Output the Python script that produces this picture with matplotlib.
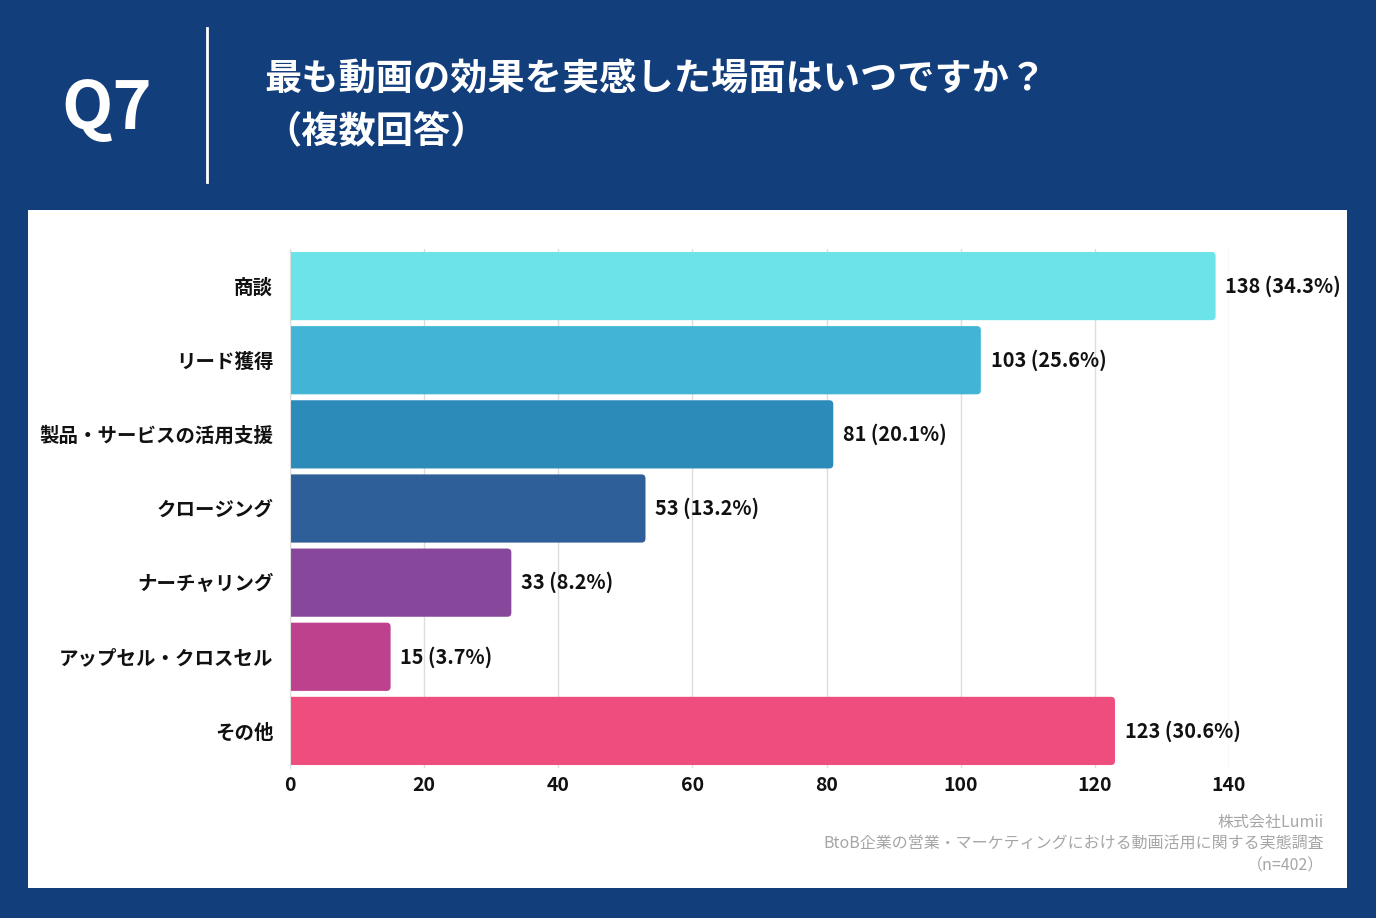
#!/usr/bin/env python3
"""
Q7: 最も動画の効果を実感した場面 - horizontal bar chart
"""

import matplotlib.pyplot as plt
from matplotlib.patches import Rectangle, FancyBboxPatch

plt.rcParams['font.family'] = ['Noto Sans CJK JP', 'DejaVu Sans']

# Data
categories = ['商談', 'リード獲得', '製品・サービスの活用支援', 'クロージング',
              'ナーチャリング', 'アップセル・クロスセル', 'その他']
counts = [138, 103, 81, 53, 33, 15, 123]
percents = [34.3, 25.6, 20.1, 13.2, 8.2, 3.7, 30.6]
colors = ['#6BE3E9', '#42B5D6', '#2D8BBA', '#2E5F98', '#87479B', '#BD418C', '#EE4E7E']
xticks = [0, 20, 40, 60, 80, 100, 120, 140]

NAVY = '#133E7C'
W, H = 1376, 918


def plot_q7():
    fig = plt.figure(figsize=(W / 100, H / 100), dpi=100)
    fig.patch.set_facecolor(NAVY)

    # White panel
    fig.patches.append(Rectangle((28 / W, 1 - 888 / H), (1347 - 28) / W, (888 - 210) / H,
                                 transform=fig.transFigure, facecolor='white',
                                 edgecolor='none', zorder=-10))

    # Header
    fig.text(107 / W, 1 - 110 / H, 'Q7', color='white', fontsize=48,
             fontweight='bold', ha='center', va='center')
    fig.add_artist(plt.Line2D([207 / W, 207 / W], [1 - 28 / H, 1 - 182 / H],
                              color='white', linewidth=2, transform=fig.transFigure))
    fig.text(264 / W, 1 - 80 / H, '最も動画の効果を実感した場面はいつですか？',
             color='white', fontsize=26.8, fontweight='bold', ha='left', va='center')
    fig.text(264 / W, 1 - 132 / H, '（複数回答）',
             color='white', fontsize=26.8, fontweight='bold', ha='left', va='center')

    # Chart axes
    left, right = 290, 1229
    top, bottom = 249, 768
    ax = fig.add_axes([left / W, 1 - bottom / H, (right - left) / W, (bottom - top) / H])
    ax.set_facecolor('none')

    y = list(range(len(categories)))
    bars = ax.barh(y, counts, height=0.92, color=colors, zorder=3)

    # swap plain bars for ones with rounded right ends (left end hidden past x=0)
    px_x = (right - left) / 140          # pixels per x unit
    px_y = (bottom - top) / len(categories)
    rad = 4 / px_x
    for b in bars:
        b.set_visible(False)
        ax.add_patch(FancyBboxPatch((b.get_x() - 2, b.get_y()), b.get_width() + 2, b.get_height(),
                                    boxstyle=f'round,pad=0,rounding_size={rad}',
                                    mutation_aspect=px_x / px_y,
                                    facecolor=b.get_facecolor(), edgecolor='none', zorder=3))

    for yi, c, p in zip(y, counts, percents):
        ax.annotate(f'{c} ({p}%)', xy=(c, yi), xytext=(7, 0), textcoords='offset points',
                    ha='left', va='center', fontsize=14.3, fontweight='bold', color='#111111')

    ax.set_xlim(0, 140)
    ax.set_ylim(len(categories) - 0.5, -0.5)
    ax.set_xticks(xticks)
    ax.set_yticks(y)
    ax.set_yticklabels(categories)
    ax.tick_params(axis='both', length=0, labelsize=14)
    ax.tick_params(axis='y', pad=12)
    ax.tick_params(axis='x', pad=6)
    for lab in ax.get_xticklabels() + ax.get_yticklabels():
        lab.set_fontweight('bold')
        lab.set_color('#111111')

    ax.grid(axis='x', color='#DDDDDD', linewidth=1, zorder=0)
    ax.set_axisbelow(True)
    for s in ['top', 'right', 'bottom']:
        ax.spines[s].set_visible(False)
    ax.spines['left'].set_color('#DDDDDD')
    ax.spines['left'].set_zorder(4)

    # Footer
    footer = ['株式会社Lumii',
              'BtoB企業の営業・マーケティングにおける動画活用に関する実態調査',
              '（n=402）']
    for i, line in enumerate(footer):
        fig.text(1324 / W, 1 - (822 + 22 * i) / H, line, color='#A6A6A6', fontsize=11.5,
                 ha='right', va='center')

    fig.savefig('out.png', dpi=100, facecolor=fig.get_facecolor())
    plt.close(fig)


if __name__ == '__main__':
    plot_q7()
